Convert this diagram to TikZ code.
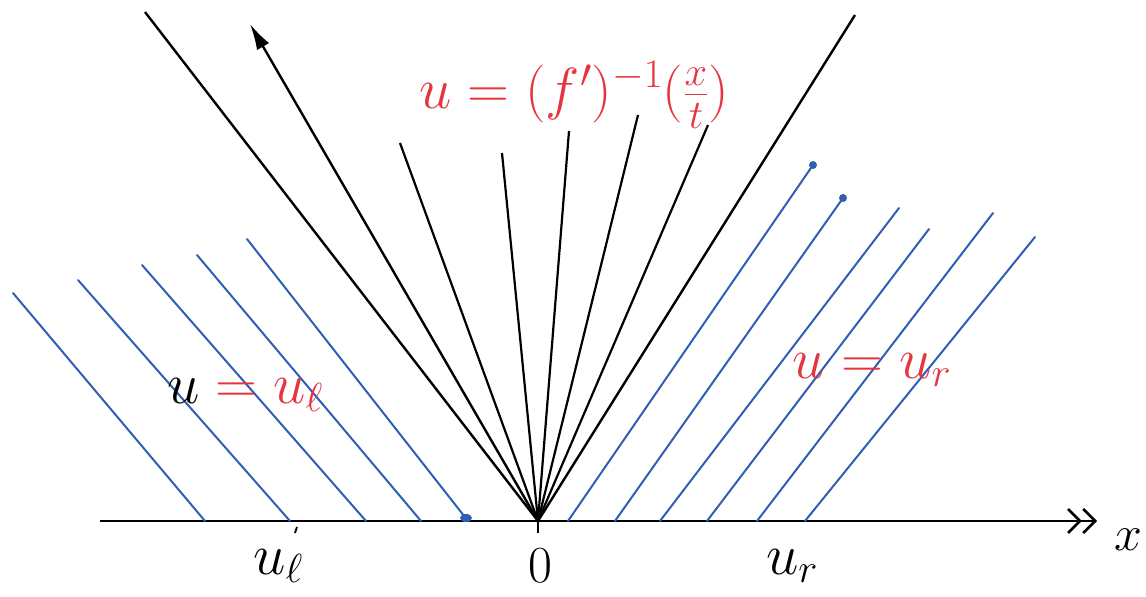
\documentclass[tikz,border=0pt]{standalone}
\usepackage{fix-cm}
\usepackage{tikz}
\usetikzlibrary{arrows.meta}
\definecolor{inkred}{HTML}{E63540}
\definecolor{inkblue}{HTML}{2F5FB5}
\tikzset{
  front/.style={line width=2.4pt, black},
  fanline/.style={line width=2.2pt, black},
  charline/.style={line width=2pt, inkblue, line cap=round},
  lbl/.style={font=\fontsize{58}{64}\selectfont, inner sep=0pt},
}
\begin{document}
\begin{tikzpicture}[x=1pt,y=-1pt]
  \useasboundingbox (0,0) rectangle (1146,597);
  % axis
  \coordinate (O) at (538,521);
  \coordinate (xl) at (100,521);
  \coordinate (xr) at (1097,521);
  \draw[line width=2.4pt,
    -{Straight Barb[length=12pt,width=24pt,line width=2.6pt]Straight Barb[length=12pt,width=24pt,line width=2.6pt]}]
    (xl) -- (xr);
  \coordinate (Otick) at (538,533);
  \draw[line width=2.6pt] (O) -- (Otick);
  \coordinate (ltick1) at (297,527);
  \coordinate (ltick2) at (295,533);
  \draw[line width=1.8pt] (ltick1) -- (ltick2);
  % edges of the fan
  \coordinate (lfront) at (145,12);
  \coordinate (rfront) at (855,15);
  \coordinate (arrtop) at (250,24);
  \draw[front] (O) -- (lfront);
  \draw[front] (O) -- (rfront);
  \draw[front, -{Latex[length=26pt,width=14pt]}] (O) -- (arrtop);
  % rarefaction fan
  \foreach \n/\x/\y in {f1/400/143, f2/502/153, f3/569/131, f4/638/115, f5/708/125}{
    \coordinate (\n) at (\x,\y);
    \draw[fanline] (O) -- (\n);
  }
  % characteristics, left state
  \foreach \n/\b/\x/\y in {l1/205/13/293, l2/290/78/280, l3/366/142/265, l4/421/197/255, l5/468/247/239}{
    \coordinate (\n b) at (\b,521);
    \coordinate (\n t) at (\x,\y);
    \draw[charline] (\n b) -- (\n t);
  }
  \fill[inkblue] (466,518) ellipse (6pt and 4pt);
  % characteristics, right state
  \foreach \n/\b/\x/\y in {r1/568/813/165, r2/615/843/198, r3/660/899/208, r4/707/929/229, r5/757/993/213, r6/805/1035/237}{
    \coordinate (\n b) at (\b,521);
    \coordinate (\n t) at (\x,\y);
    \draw[charline] (\n b) -- (\n t);
  }
  \fill[inkblue] (r1t) circle (4pt);
  \fill[inkblue] (r2t) circle (4pt);
  % labels
  \node[lbl, inkred] (fanlbl) at (574,95) {$u=(f')^{-1}(\frac{x}{t})$};
  \node[lbl, inkred] (ullbl) at (245,395) {$\textcolor{black}{u}=u_\ell$};
  \node[lbl, inkred] (urlbl) at (872,370) {$u=u_r$};
  \node[lbl] (ulax) at (278,566) {$u_\ell$};
  \node[lbl, font=\fontsize{52}{58}\selectfont] (zero) at (540,566) {$0$};
  \node[lbl] (urax) at (792,566) {$u_r$};
  \node[lbl, font=\fontsize{50}{56}\selectfont] (xlbl) at (1128,540) {$x$};
\end{tikzpicture}
\end{document}
